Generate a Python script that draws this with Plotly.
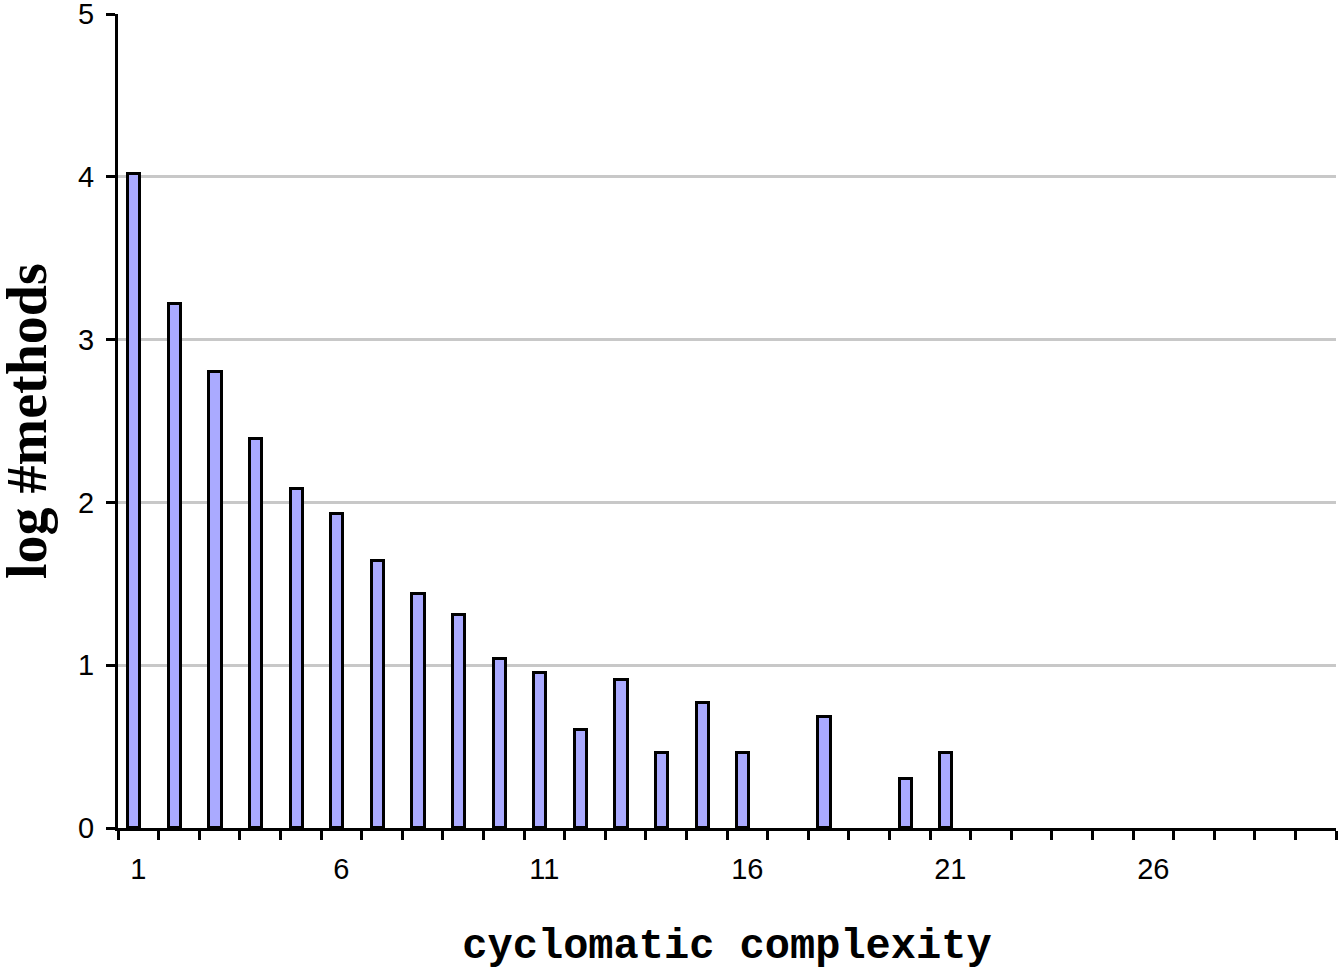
import plotly.graph_objects as go

# cyclomatic complexity classes and log10 of method counts per class
complexity = list(range(1, 31))
log_methods = [4.02, 3.22, 2.80, 2.39, 2.08, 1.93, 1.64, 1.44, 1.31, 1.04,
               0.95, 0.60, 0.91, 0.46, 0.77, 0.46, 0.00, 0.68, 0.00, 0.30,
               0.46, 0.00, 0.00, 0.00, 0.00, 0.00, 0.00, 0.00, 0.00, 0.00]
x_ticks = [1, 6, 11, 16, 21, 26]
y_ticks = [0, 1, 2, 3, 4, 5]
grid_levels = [1, 2, 3, 4]

# empty classes get no outline, so nothing is drawn on the axis for them
outline_widths = [3 if v > 0 else 0 for v in log_methods]

fig = go.Figure(go.Bar(
    x=complexity,
    y=log_methods,
    width=0.3,
    offset=-0.25,
    marker=dict(color="#AAAAFF", line=dict(color="black", width=outline_widths)),
))

tick_font = dict(family="Liberation Sans", size=29, color="black")

fig.update_layout(
    width=1339, height=971,
    margin=dict(l=118, r=3, t=14, b=143, autoexpand=False),
    paper_bgcolor="white", plot_bgcolor="white",
    showlegend=False,
    bargap=0,
    xaxis=dict(
        range=[0.5, 30.5], automargin=False,
        tickmode="array", tickvals=x_ticks, ticktext=[str(v) for v in x_ticks],
        ticks="", showgrid=False, zeroline=False,
        showline=True, linecolor="black", linewidth=3,
        tickfont=tick_font, ticklabelstandoff=13,
        minor=dict(ticks="outside", tick0=0.5, dtick=1, ticklen=9,
                   tickwidth=3, tickcolor="black", showgrid=False),
        title=dict(text="cyclomatic complexity",
                   font=dict(family="Liberation Mono", size=42, color="black",
                             weight="bold"),
                   standoff=55),
    ),
    yaxis=dict(
        range=[0, 5.0005], automargin=False,
        tickmode="array", tickvals=y_ticks, ticktext=[str(v) for v in y_ticks],
        ticks="outside", ticklen=9, tickwidth=3, tickcolor="black",
        showgrid=False, zeroline=False,
        showline=True, linecolor="black", linewidth=3,
        tickfont=tick_font, ticklabelstandoff=6, ticklabeloverflow="allow",
        minor=dict(tickmode="array", tickvals=grid_levels, ticks="",
                   showgrid=True, gridcolor="#C8C8C8", gridwidth=3),
    ),
)

# vertical axis title, placed close to the left page edge
fig.add_annotation(
    text="log #methods", textangle=-90,
    xref="paper", yref="paper", x=0, y=0.5,
    xanchor="left", yanchor="middle", xshift=-124,
    showarrow=False,
    font=dict(family="Liberation Serif", size=56, color="black", weight="bold"),
)

fig.write_html("out.html")
